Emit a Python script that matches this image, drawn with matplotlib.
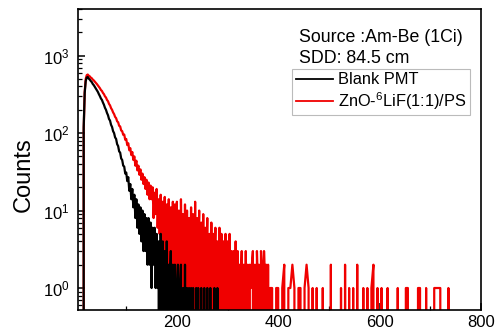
import numpy as np
import matplotlib
matplotlib.use('Agg')
import matplotlib.pyplot as plt
from matplotlib.ticker import LogLocator, MultipleLocator, NullFormatter

plt.rcParams['font.family'] = ['Liberation Sans', 'DejaVu Sans']
plt.rcParams['mathtext.fontset'] = 'custom'
plt.rcParams['mathtext.rm'] = 'Liberation Sans'
plt.rcParams['mathtext.it'] = 'Liberation Sans'
plt.rcParams['mathtext.default'] = 'regular'

# Blank PMT, counts per channel (channel width 2, starting at 0)
blank_pmt = [
    0, 0, 0, 0, 0, 0, 0, 0, 120, 330,
    470, 520, 530, 505, 490, 470, 455, 430, 415, 395,
    375, 360, 340, 318, 300, 280, 268, 248, 232, 212,
    200, 182, 170, 152, 145, 128, 120, 106, 100, 88,
    84, 72, 68, 58, 56, 47, 45, 38, 37, 30,
    31, 24, 27, 18, 22, 14, 19, 11, 16, 8,
    14, 6, 12, 5, 11, 4, 10, 3, 9, 3,
    8, 2, 8, 2, 7, 1, 6, 2, 6, 1,
    5, 1, 4, 0, 5, 0, 4, 1, 3, 0,
    4, 0, 2, 1, 3, 0, 2, 0, 2, 1,
    0, 2, 0, 1, 2, 0, 1, 0, 2, 0,
    1, 0, 1, 0, 1, 0, 1, 0, 0, 1,
    0, 1, 0, 0, 1, 0, 0, 1, 0, 0,
    1, 0, 0, 1, 0, 0, 0, 1, 0, 0,
    1, 0, 0,
]
# ZnO-6LiF(1:1)/PS, channel width 2 up to 384
zno_lif_head = [
    0, 0, 0, 0, 0, 0, 0, 0, 110, 340,
    500, 560, 570, 550, 540, 520, 510, 490, 478, 460,
    445, 430, 412, 395, 380, 360, 350, 330, 318, 298,
    288, 268, 258, 238, 228, 210, 200, 185, 176, 162,
    156, 142, 138, 124, 122, 108, 106, 95, 96, 82,
    84, 70, 74, 60, 64, 52, 57, 45, 50, 38,
    44, 33, 38, 29, 34, 25, 30, 22, 27, 19,
    25, 16, 23, 14, 21, 14, 20, 8, 17, 9,
    19, 6, 14, 5, 16, 3, 13, 2, 15, 0,
    12, 1, 14, 0, 11, 0, 13, 0, 12, 1,
    13, 0, 10, 0, 14, 1, 9, 0, 12, 0,
    10, 0, 8, 1, 11, 0, 9, 0, 13, 0,
    8, 2, 10, 0, 7, 0, 9, 0, 6, 1,
    8, 0, 5, 0, 7, 0, 5, 1, 6, 0,
    4, 0, 6, 0, 5, 1, 4, 0, 5, 0,
    4, 0, 5, 1, 3, 0, 3, 0, 4, 0,
    3, 0, 2, 1, 3, 0, 2, 0, 3, 0,
    2, 0, 2, 1, 2, 3, 0, 2, 0, 3,
    1, 2, 0, 3, 2, 0, 3, 1, 2, 0,
    2, 0,
]
# ZnO-6LiF(1:1)/PS, channel width 4 from 384
zno_lif_tail = [
    1, 1, 0, 1,
    1, 0, 1, 2, 0, 1, 1, 2, 1, 0,
    1, 1, 0, 1, 2, 1, 0, 1, 0, 1,
    0, 0, 1, 0, 0, 0, 2, 0, 0, 0,
    0, 1, 0, 2, 0, 1, 0, 1, 0, 2,
    0, 0, 1, 0, 1, 0, 1, 2, 0, 1,
    0, 1, 0, 0, 1, 0, 0, 0, 0, 1,
    0, 0, 0, 1, 1, 0, 0, 0, 0, 1,
    1, 0, 0, 1, 0, 0, 0, 1, 1, 1,
    1, 0, 0, 0, 1, 0,
]

x_blank = np.arange(len(blank_pmt)) * 2
x_head = np.arange(len(zno_lif_head)) * 2
x_tail = x_head[-1] + 2 + np.arange(len(zno_lif_tail)) * 4
x_zno = np.concatenate([x_head, x_tail])
zno_lif = np.concatenate([zno_lif_head, zno_lif_tail])

fig = plt.figure(figsize=(5.04, 3.33), dpi=100)
ax = fig.add_axes([0.155, 0.069, 0.799, 0.904])

ax.plot(x_zno, zno_lif, color='#f00000', lw=1.6, label='ZnO-$^{6}$LiF(1:1)/PS')
ax.plot(x_blank, blank_pmt, color='black', lw=1.6, label='Blank PMT')

ax.set_yscale('log', nonpositive='clip')
ax.set_ylim(0.52, 4000)
ax.set_xlim(5, 800)
ax.xaxis.set_major_locator(MultipleLocator(200))
ax.xaxis.set_minor_locator(MultipleLocator(100))
ax.yaxis.set_major_locator(LogLocator(base=10, numticks=10))
ax.yaxis.set_minor_locator(LogLocator(base=10, subs=np.arange(2, 10), numticks=10))
ax.yaxis.set_minor_formatter(NullFormatter())
ax.tick_params(which='both', direction='in', top=False, right=False, labelsize=12)
ax.tick_params(axis='y', pad=6)
ax.tick_params(which='major', length=5, width=1.1)
ax.tick_params(which='minor', length=3, width=0.9)
for s in ax.spines.values():
    s.set_linewidth(1.2)

fig.text(24 / 504, 1 - 175 / 333, 'Counts', rotation=90, ha='center', va='center', fontsize=17)

ax.text(0.548, 0.905, 'Source :Am-Be (1Ci)', transform=ax.transAxes, fontsize=12.8, va='center')
ax.text(0.548, 0.835, 'SDD: 84.5 cm', transform=ax.transAxes, fontsize=12.8, va='center')

h, l = ax.get_legend_handles_labels()
leg = ax.legend(h[::-1], l[::-1], loc='upper left', bbox_to_anchor=(0.532, 0.800),
                fontsize=11.8, frameon=True, fancybox=False, edgecolor='#aaaaaa',
                handlelength=2.3, handletextpad=0.3, borderpad=0.2, labelspacing=0.15,
                borderaxespad=0)
leg.get_frame().set_linewidth(0.8)
for line in leg.get_lines():
    line.set_linewidth(1.3)

fig.savefig('out.png', dpi=100)
